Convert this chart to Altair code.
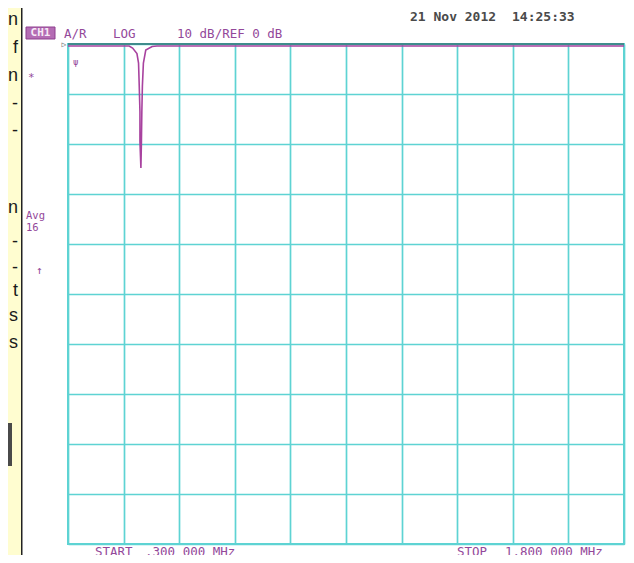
import altair as alt
import pandas as pd

# ---- data (network analyser trace) ----
freq_mhz = [0.300, 0.465, 0.4743, 0.4860, 0.4903, 0.4922, 0.4941, 0.4941, 0.4967,
            0.4981, 0.4992, 0.5007, 0.5034, 0.5098, 0.5269, 0.540, 1.800]
trace_db = [-0.4, -0.4, -0.8, -1.9, -3.8, -8.4, -13.6, -19.5, -24.8,
            -19.5, -13.6, -8.4, -3.8, -1.2, -0.5, -0.4, -0.4]

x_grid = [0.30, 0.45, 0.60, 0.75, 0.90, 1.05, 1.20, 1.35, 1.50, 1.65, 1.80]
y_grid = [0, -10, -20, -30, -40, -50, -60, -70, -80, -90, -100]

header_texts = ["A/R", "LOG", "10 dB/REF 0 dB"]
date_texts = ["21 Nov 2012", "14:25:33"]
footer_texts = ["START", ".300 000 MHz", "STOP", "1.800 000 MHz"]
side_texts = ["*", "Avg", "16", "↑"]
page_letters = ["n", "f", "n", "-", "-", "n", "-", "-", "t", "s", "s"]

df = pd.DataFrame({"freq": freq_mhz, "db": trace_db})

TEAL = "#5ED3D3"
PURPLE = "#93489A"
TRACE = "#A8429F"
MONO = "DejaVu Sans Mono"

PLOT_W, PLOT_H = 556, 500

x_enc = alt.X("freq:Q", scale=alt.Scale(domain=[0.3, 1.8], nice=False, zero=False),
              axis=alt.Axis(values=x_grid, labels=False, ticks=False, domain=False,
                            title=None, grid=True, gridColor=TEAL, gridWidth=1.7,
                            gridOpacity=1))
y_enc = alt.Y("db:Q", scale=alt.Scale(domain=[-100, 0], nice=False, zero=False),
              axis=alt.Axis(values=y_grid, labels=False, ticks=False, domain=False,
                            title=None, grid=True, gridColor=TEAL, gridWidth=1.7,
                            gridOpacity=1))

one = alt.Data(values=[{}])


def rect(x, x2, y, y2, fill, stroke=None, sw=0):
    props = dict(fill=fill)
    if stroke:
        props.update(stroke=stroke, strokeWidth=sw)
    return alt.Chart(one).mark_rect(**props).encode(
        x=alt.value(x), x2=alt.value(x2), y=alt.value(y), y2=alt.value(y2))


def txt(t, x, y, size=13, color=PURPLE, font=MONO, align="left", weight="normal"):
    return alt.Chart(one).mark_text(text=t, fontSize=size, color=color, font=font,
                                    align=align, baseline="middle",
                                    fontWeight=weight).encode(
        x=alt.value(x), y=alt.value(y))


layers = []
# page background pieces (yellow strip of the web page beside the screenshot)
layers.append(rect(-60, -46, -36, 511, "#FFFDD0"))
layers.append(rect(-47, -45.5, -36, 511, "#222222"))
layers.append(rect(-60, -56, 379, 422, "#4A4A4A"))
letter_y = [20, 48, 76, 104, 131, 208, 242, 268, 291, 316, 343]
for ch, yy in zip(page_letters, letter_y):
    layers.append(txt(ch, -50, yy - 44, size=18, color="#1A1A1A",
                      font="Liberation Sans", align="right"))

# grid + trace
grid = alt.Chart(df).mark_line(opacity=0).encode(x=x_enc, y=y_enc)
layers.append(grid)
top_rule = alt.Chart(pd.DataFrame({"db": [0]})).mark_rule(
    color="#3F8C8C", strokeWidth=2).encode(y=alt.Y("db:Q"))
layers.append(top_rule)
trace = alt.Chart(df).mark_line(color=TRACE, strokeWidth=1.6).encode(
    x="freq:Q", y="db:Q")
layers.append(trace)

# header
layers.append(rect(-42, -13, -17, -5, "#B46CB4", stroke="#8E3E8E", sw=1))
layers.append(txt("CH1", -27.5, -11, size=11, color="#F6E8F6", align="center",
                  weight="bold"))
for t, xx in zip(header_texts, [-4, 45, 109]):
    layers.append(txt(t, xx, -10, size=12.5))
for t, xx in zip(date_texts, [342, 444]):
    layers.append(txt(t, xx, -27, size=13, color="#4A4A4A", weight="bold"))

# side annotations
for t, (xx, yy, s) in zip(side_texts, [(-40, 34, 11), (-42, 172, 10.5),
                                       (-42, 184, 10.5), (-32, 227, 11)]):
    layers.append(txt(t, xx, yy, size=s))
layers.append(txt("ψ", 5, 18, size=9))
layers.append(txt("▷", -4, 1, size=8, color="#666666", align="center"))

# footer (cut by the bottom edge, as in the reference)
for t, xx in zip(footer_texts, [27, 77, 389, 437]):
    layers.append(txt(t, xx, PLOT_H + 8, size=12.5))

chart = alt.layer(*layers).properties(
    width=PLOT_W, height=PLOT_H,
    autosize=alt.AutoSizeParams(type="none"),
    padding={"left": 60, "top": 36, "right": 2, "bottom": 11},
    background="white",
).configure_view(stroke=TEAL, strokeWidth=2)

chart.save("out.html", embed_options={"renderer": "svg", "actions": False})
